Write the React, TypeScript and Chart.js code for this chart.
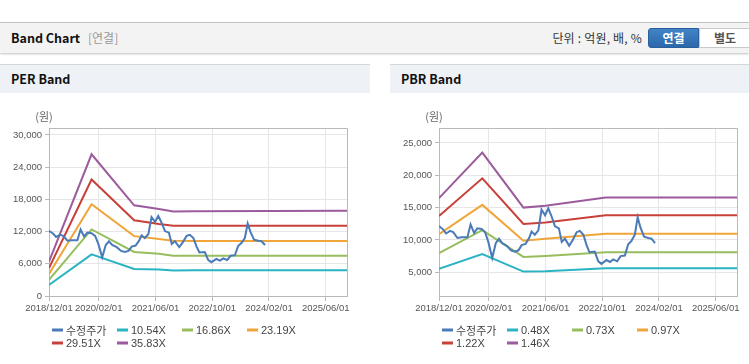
import React, { useEffect, useRef } from "react";
import { Chart, registerables } from "chart.js";

Chart.register(...registerables);

// ---------- data ----------
const TICK_MONTHS = [0, 14, 30, 46, 62, 78];
const TICK_LABELS = ["2018/12/01", "2020/02/01", "2021/06/01", "2022/10/01", "2024/02/01", "2025/06/01"];
const X_MAX = 84;

const PRICE_LABEL = "수정주가";
const PRICE_MONTHS = [0, 1.2, 2.0, 3.1, 4.0, 5.2, 6.4, 8.0, 8.9, 9.9, 10.8, 12.0, 13.0, 13.9, 15.0, 16.0, 16.9, 17.8, 19.1, 20.3, 21.4, 22.4, 23.3, 24.4, 25.4, 26.1, 27.0, 28.0, 28.9, 29.9, 30.8, 31.7, 32.7, 33.8, 34.6, 35.5, 36.7, 37.7, 38.8, 39.7, 40.7, 41.6, 42.4, 43.9, 44.9, 45.8, 47.2, 48.2, 49.1, 50.2, 51.2, 52.4, 53.3, 54.3, 55.2, 56.0, 56.8, 57.8, 59.0, 59.9, 60.9];
const PRICE = [12150, 11600, 11000, 11400, 11200, 10300, 10400, 10400, 12400, 11100, 11800, 11700, 11200, 9700, 7200, 9500, 10200, 9500, 9100, 8400, 8200, 8400, 9200, 9400, 10300, 11300, 10800, 11500, 14700, 13800, 14900, 13700, 12100, 11800, 9700, 10200, 9100, 10000, 11200, 11400, 10800, 9200, 8100, 8200, 6700, 6300, 6900, 6600, 7000, 6700, 7500, 7600, 9300, 9900, 10800, 13500, 11900, 10500, 10300, 10200, 9500];

const PER_MONTHS = [0, 12, 24, 31, 35, 41, 84];
const PER_LABELS = ["10.54X", "16.86X", "23.19X", "29.51X", "35.83X"];
const PER_1054 = [2050, 7750, 5050, 4950, 4750, 4780, 4780];
const PER_1686 = [3000, 12400, 8200, 7850, 7500, 7500, 7500];
const PER_2319 = [4100, 17100, 11150, 10600, 10300, 10250, 10250];
const PER_2951 = [5200, 21700, 14100, 13400, 13100, 13100, 13100];
const PER_3583 = [6400, 26400, 16900, 16200, 15750, 15800, 15900];
const PER_Y_TICKS = [0, 6000, 12000, 18000, 24000, 30000];

const PBR_MONTHS = [0, 12.2, 23.8, 30, 47, 84];
const PBR_LABELS = ["0.48X", "0.73X", "0.97X", "1.22X", "1.46X"];
const PBR_048 = [5530, 7830, 5110, 5150, 5630, 5630];
const PBR_073 = [7960, 11520, 7380, 7540, 8110, 8110];
const PBR_097 = [10900, 15420, 9890, 10200, 10940, 10940];
const PBR_122 = [13690, 19530, 12480, 12690, 13800, 13800];
const PBR_146 = [16460, 23490, 15000, 15300, 16570, 16570];
const PBR_Y_TICKS = [5000, 10000, 15000, 20000, 25000];

const COLORS = ["#4a7ab8", "#2ab3c3", "#97bd5d", "#f0a53a", "#c9403a", "#9b5b9d"];
const FONT = "'Noto Sans CJK KR', 'Liberation Sans', sans-serif";
const TICK_FONT = "'Liberation Sans', 'Noto Sans CJK KR', sans-serif";

function toPoints(xs: number[], ys: number[]) {
  return xs.map((x, i) => ({ x, y: ys[i] }));
}

type BandProps = {
  width: number;
  height: number;
  bandMonths: number[];
  bandLabels: string[];
  bands: number[][];
  yMin: number;
  yMax: number;
  yTicks: number[];
};

function BandCanvas(props: BandProps) {
  const ref = useRef<HTMLCanvasElement | null>(null);
  useEffect(() => {
    const canvas = ref.current;
    if (!canvas) return;
    const datasets: any[] = [
      {
        label: PRICE_LABEL,
        data: toPoints(PRICE_MONTHS, PRICE),
        borderColor: COLORS[0],
        borderWidth: 2,
      },
      ...props.bands.map((b, i) => ({
        label: props.bandLabels[i],
        data: toPoints(props.bandMonths, b),
        borderColor: COLORS[i + 1],
        borderWidth: 2,
      })),
    ];
    datasets.forEach((d) => {
      d.pointRadius = 0;
      d.tension = 0;
      d.fill = false;
      d.backgroundColor = d.borderColor;
    });

    const decor = {
      id: "decor",
      beforeDatasetsDraw(chart: any) {
        const { ctx, chartArea } = chart;
        ctx.save();
        ctx.strokeStyle = "#b9b9b9";
        ctx.lineWidth = 1;
        ctx.beginPath();
        ctx.moveTo(chartArea.left, chartArea.top + 0.5);
        ctx.lineTo(chartArea.right + 0.5, chartArea.top + 0.5);
        ctx.lineTo(chartArea.right + 0.5, chartArea.bottom);
        ctx.stroke();
        ctx.restore();
      },
      afterDraw(chart: any) {
        const { ctx, chartArea } = chart;
        ctx.save();
        ctx.fillStyle = "#666";
        ctx.font = `11px ${FONT}`;
        ctx.textAlign = "center";
        ctx.textBaseline = "middle";
        ctx.fillText("(원)", chartArea.left - 5, chartArea.top - 11);
        // legend
        ctx.textAlign = "left";
        chart.data.datasets.forEach((ds: any, i: number) => {
          const col = i % 4;
          const row = Math.floor(i / 4);
          const x = chartArea.left + 3 + col * 65;
          const y = 237 + row * 13;
          ctx.strokeStyle = ds.borderColor;
          ctx.lineWidth = 3;
          ctx.beginPath();
          ctx.moveTo(x, y);
          ctx.lineTo(x + 11, y);
          ctx.stroke();
          ctx.fillStyle = "#444";
          ctx.font = `11px ${i === 0 ? FONT : TICK_FONT}`;
          ctx.fillText(ds.label, x + 14, y + 0.5);
        });
        ctx.restore();
      },
    };

    const chart = new Chart(canvas, {
      type: "line",
      data: { datasets },
      options: {
        responsive: false,
        animation: false,
        layout: { padding: { left: 0, top: 35, right: props.width - 347, bottom: 40 } },
        plugins: { legend: { display: false }, tooltip: { enabled: false } },
        scales: {
          x: {
            type: "linear",
            min: 0,
            max: X_MAX,
            afterBuildTicks: (axis: any) => {
              axis.ticks = TICK_MONTHS.map((v) => ({ value: v }));
            },
            afterFit: (axis: any) => {
              axis.height = 26;
            },
            ticks: {
              autoSkip: false,
              maxRotation: 0,
              padding: 2,
              color: "#555",
              font: { family: TICK_FONT, size: 9.5 },
              callback: (v: any) => {
                const idx = TICK_MONTHS.indexOf(Number(v));
                return idx >= 0 ? TICK_LABELS[idx] : "";
              },
            },
            grid: { color: "#e6e6e6", tickColor: "#b9b9b9", tickLength: 5, drawTicks: true },
            border: { color: "#b9b9b9" },
          },
          y: {
            type: "linear",
            min: props.yMin,
            max: props.yMax,
            afterBuildTicks: (axis: any) => {
              axis.ticks = props.yTicks.map((v) => ({ value: v }));
            },
            afterFit: (axis: any) => {
              axis.width = 49;
            },
            ticks: {
              padding: 3,
              color: "#555",
              font: { family: TICK_FONT, size: 9.5 },
              callback: (v: any) => Number(v).toLocaleString("en-US"),
            },
            grid: { color: "#e6e6e6", tickColor: "#b9b9b9", tickLength: 4, drawTicks: true },
            border: { color: "#b9b9b9" },
          },
        },
      },
      plugins: [decor],
    } as any);
    return () => chart.destroy();
  }, []);
  return <canvas ref={ref} width={props.width} height={props.height} style={{ display: "block" }} />;
}

function Panel(props: { left: number; width: number; title: string; children: any }) {
  return (
    <div
      style={{
        position: "absolute",
        left: props.left,
        top: 64,
        width: props.width,
        height: 299,
        borderTop: "1px solid #d6d6d6",
        borderBottom: "1px solid #d0d0d0",
        background: "#fff",
        overflow: "hidden",
      }}
    >
      <div
        style={{
          height: 28,
          background: "#eef2f7",
          fontFamily: FONT,
          fontWeight: 700,
          fontSize: 12.5,
          color: "#111",
          lineHeight: "28px",
          paddingLeft: 11,
          boxSizing: "border-box",
        }}
      >
        {props.title}
      </div>
      {props.children}
    </div>
  );
}

export default function App() {
  return (
    <div style={{ position: "absolute", left: 0, top: 0, width: 749, height: 364, overflow: "hidden", background: "#fff", fontFamily: FONT }}>
      <div
        style={{
          position: "absolute",
          left: 0,
          top: 22,
          width: 749,
          height: 30,
          background: "#f3f3f3",
          borderTop: "1px solid #c4c4c4",
          boxShadow: "0 1px 2px rgba(0,0,0,0.25)",
        }}
      >
        <span style={{ position: "absolute", left: 11, top: 0, lineHeight: "30px", fontWeight: 700, fontSize: 12.5, color: "#111" }}>
          Band Chart
        </span>
        <span style={{ position: "absolute", left: 88, top: 0, lineHeight: "30px", fontSize: 12, color: "#999" }}>[연결]</span>
        <span style={{ position: "absolute", right: 107, top: 0, lineHeight: "30px", fontSize: 12, color: "#333", letterSpacing: 0.2 }}>
          단위 : 억원, 배, %
        </span>
        <div
          style={{
            position: "absolute",
            left: 648,
            top: 5,
            width: 51,
            height: 20,
            boxSizing: "border-box",
            background: "linear-gradient(#4184c6, #2c67ab)",
            border: "1px solid #2a5f9e",
            borderRadius: "3px 0 0 3px",
            color: "#fff",
            fontWeight: 700,
            fontSize: 12,
            lineHeight: "18px",
            textAlign: "center",
          }}
        >
          연결
        </div>
        <div
          style={{
            position: "absolute",
            left: 699,
            top: 5,
            width: 52,
            height: 20,
            boxSizing: "border-box",
            background: "#fff",
            border: "1px solid #c8c8c8",
            color: "#555",
            fontWeight: 700,
            fontSize: 12,
            lineHeight: "18px",
            textAlign: "center",
          }}
        >
          별도
        </div>
      </div>
      <Panel left={0} width={370} title="PER Band">
        <BandCanvas
          width={370}
          height={269}
          bandMonths={PER_MONTHS}
          bandLabels={PER_LABELS}
          bands={[PER_1054, PER_1686, PER_2319, PER_2951, PER_3583]}
          yMin={0}
          yMax={31300}
          yTicks={PER_Y_TICKS}
        />
      </Panel>
      <Panel left={390} width={370} title="PBR Band">
        <BandCanvas
          width={370}
          height={269}
          bandMonths={PBR_MONTHS}
          bandLabels={PBR_LABELS}
          bands={[PBR_048, PBR_073, PBR_097, PBR_122, PBR_146]}
          yMin={1340}
          yMax={27300}
          yTicks={PBR_Y_TICKS}
        />
      </Panel>
    </div>
  );
}
